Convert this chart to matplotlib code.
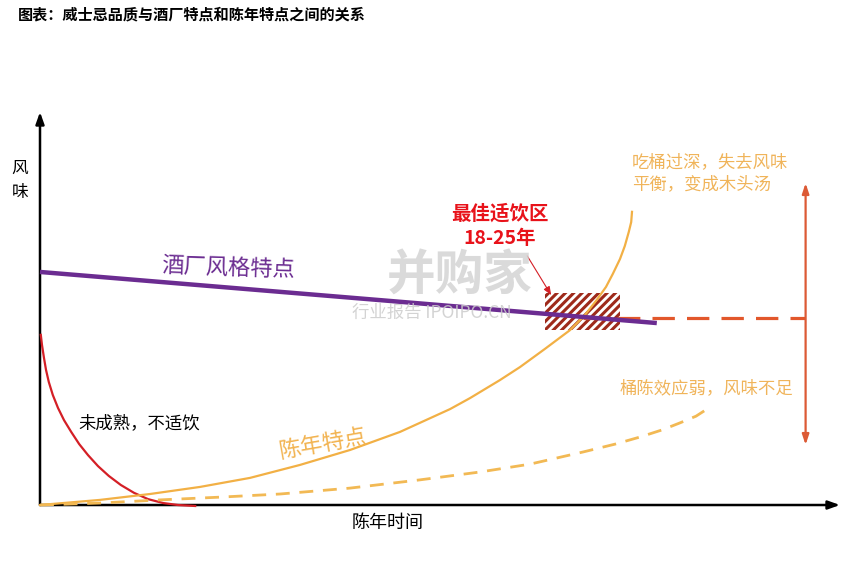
import numpy as np
import matplotlib.pyplot as plt
from matplotlib.patches import Rectangle

plt.rcParams['font.family'] = ['Noto Sans CJK SC', 'DejaVu Sans']
plt.rcParams['hatch.linewidth'] = 2.2

# Concept curves (x = aging time, y = flavour, both 0-100)
immature_x = [0.1, 0.25, 0.5, 0.75, 1.1, 1.6, 2.25, 3.0, 3.9, 4.9, 6.0, 7.25, 8.6, 10.1, 11.75, 13.5, 15.4, 17.25, 19.4]
immature_y = [43.3, 40.7, 37.4, 34.4, 31.3, 28.0, 24.7, 21.6, 18.6, 15.5, 12.7, 9.9, 7.4, 5.1, 3.1, 1.5, 0.5, 0.0, -0.25]

aging_x = [0, 7.5, 13.75, 20, 26.25, 32.5, 38.75, 45, 51.25, 53.75, 57.5, 60, 63.1, 66.25, 68.1, 69.6, 70.75,
           71.6, 72.5, 73.1, 73.6, 73.9, 74.0]
aging_y = [0, 1.3, 2.8, 4.6, 6.9, 10.2, 14.0, 18.6, 24.4, 27.2, 31.8, 35.1, 39.7, 44.5, 48.3, 52.2, 55.5,
           58.8, 62.6, 65.9, 69.5, 72.0, 74.6]

weak_x = [0, 7.5, 15, 22.5, 30, 38.75, 47.5, 55, 61.25, 67.9, 71.9, 75, 77.75, 80, 82, 83.75]
weak_y = [0, 0.5, 1.3, 2.0, 2.8, 4.3, 6.4, 8.4, 10.4, 13.5, 15.5, 17.3, 19.1, 20.9, 22.6, 24.9]

distillery_x = [0, 77.1]
distillery_y = [59.3, 46.3]

balance_x = [67.9, 95.6]
balance_y = [47.6, 47.6]

range_x = 95.7
range_y = [15.3, 81.9]

best_x = [63.1, 72.5]
best_y = [44.5, 53.9]

title = '图表：威士忌品质与酒厂特点和陈年特点之间的关系'

fig = plt.figure(figsize=(8.65, 5.64), dpi=100)
ax = fig.add_axes([0, 0, 1, 1])
ax.set_xlim(-5, 103.125)
ax.set_ylim(-15.01, 128.5)
ax.axis('off')


def fpos(px, py):
    # pixel position -> figure fraction
    return px / 865, 1 - py / 564


# axes with arrow heads
ax.annotate('', xy=(0, 100), xytext=(0, 0),
            arrowprops=dict(arrowstyle='-|>,head_length=0.7,head_width=0.25', color='black', lw=1.8,
                            shrinkA=0, shrinkB=0))
ax.annotate('', xy=(100, 0), xytext=(0, 0),
            arrowprops=dict(arrowstyle='-|>,head_length=0.7,head_width=0.25', color='black', lw=1.8,
                            shrinkA=0, shrinkB=0))

# best drinking window
ax.add_patch(Rectangle((best_x[0], best_y[0]), best_x[1] - best_x[0], best_y[1] - best_y[0],
                       facecolor='white', edgecolor='#9E2A1B', hatch='////', linewidth=0, zorder=2))

ax.plot(immature_x, immature_y, color='#D41F26', lw=1.6, zorder=3)
ax.plot(aging_x, aging_y, color='#F2B045', lw=1.6, zorder=3)
ax.plot(weak_x, weak_y, color='#F2B954', lw=2, dashes=(5, 3.5), zorder=3)
ax.plot(balance_x, balance_y, color='#E2572B', lw=2.3, dashes=(7, 3.8), zorder=3)
ax.plot(distillery_x, distillery_y, color='#6B2C91', lw=3.2, zorder=4, solid_capstyle='butt')

# flavour range arrow
ax.annotate('', xy=(range_x, range_y[1]), xytext=(range_x, range_y[0]),
            arrowprops=dict(arrowstyle='<|-|>,head_length=0.6,head_width=0.2', color='#DC5A35', lw=1.6,
                            shrinkA=0, shrinkB=0))

# pointer to best window
ax.annotate('', xy=(63.9, 53.4), xytext=(60.9, 63.4),
            arrowprops=dict(arrowstyle='-|>,head_length=0.5,head_width=0.2', color='#D41F26', lw=0.8,
                            shrinkA=0, shrinkB=0))

# texts
fig.text(*fpos(18, 14), title, fontsize=10.9, fontweight='bold', va='center', ha='left')
fig.text(*fpos(20, 168), '风', fontsize=12, ha='center', va='center')
fig.text(*fpos(20, 193), '味', fontsize=12, ha='center', va='center')
fig.text(*fpos(388, 523), '陈年时间', fontsize=13, ha='center', va='center')
fig.text(*fpos(228, 268), '酒厂风格特点', fontsize=16, color='#6B2C91', ha='center', va='center',
         rotation=-2)
fig.text(*fpos(500, 214), '最佳适饮区', fontsize=14, fontweight='bold', color='#E8121A',
         ha='center', va='center')
fig.text(*fpos(500, 238), '18-25年', fontsize=14, fontweight='bold', color='#E8121A',
         ha='center', va='center')
fig.text(*fpos(632, 162), '吃桶过深，失去风味', fontsize=12.5, color='#F0B45A', ha='left', va='center')
fig.text(*fpos(632, 184), '平衡，变成木头汤', fontsize=12.5, color='#F0B45A', ha='left', va='center')
fig.text(*fpos(620, 388), '桶陈效应弱，风味不足', fontsize=12.5, color='#F0B45A', ha='left', va='center')
fig.text(*fpos(139, 423), '未成熟，不适饮', fontsize=12.5, color='black', ha='center', va='center')
fig.text(*fpos(323, 444), '陈年特点', fontsize=16, color='#F2B350', ha='center', va='center',
         rotation=10)

# watermark
fig.text(*fpos(460, 276), '并购家', fontsize=35, color='#d4d4d4', alpha=0.85,
         ha='center', va='center', fontweight='bold', zorder=10)
fig.text(*fpos(432, 313), '行业报告 IPOIPO.CN', fontsize=12.5, color='#cccccc', alpha=0.85,
         ha='center', va='center', zorder=10)

fig.savefig('out.png', dpi=100)
